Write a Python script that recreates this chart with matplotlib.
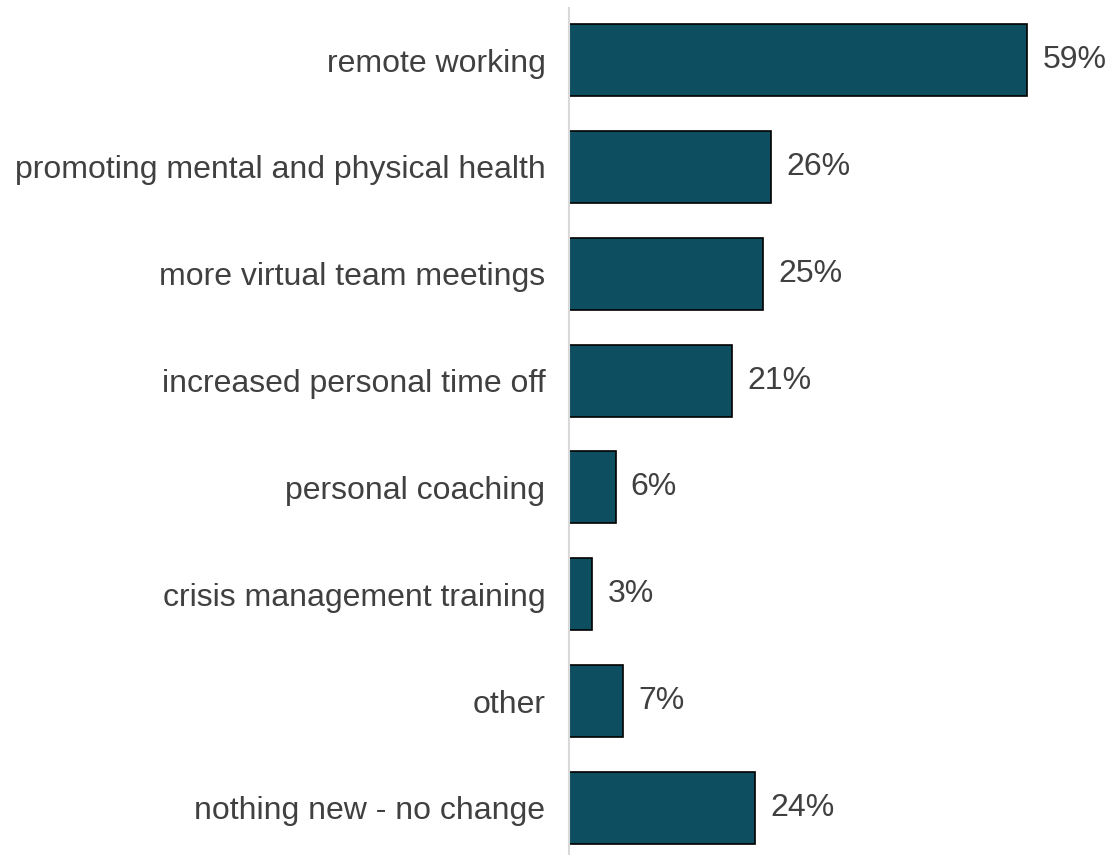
import matplotlib.pyplot as plt

categories = ["remote working", "promoting mental and physical health",
              "more virtual team meetings", "increased personal time off",
              "personal coaching", "crisis management training", "other",
              "nothing new - no change"]
values = [59, 26, 25, 21, 6, 3, 7, 24]

plt.rcParams['font.family'] = ['Liberation Sans', 'DejaVu Sans']

fig = plt.figure(figsize=(11.11, 8.55), dpi=100)
ax = fig.add_axes([569 / 1111, 0, 1 - 569 / 1111, 847 / 855])

pos = list(range(len(categories)))
ax.barh(pos, values, height=0.674, color="#0d4f60", edgecolor="black", linewidth=1.2)
for p, v in zip(pos, values):
    ax.annotate(f"{v}%", (v, p), xytext=(11, 0), textcoords="offset points",
                va="center", ha="left", fontsize=23, color="#404040")

ax.set_yticks(pos)
ax.set_yticklabels(categories, fontsize=23, color="#404040")
ax.tick_params(axis="y", length=0, pad=17)
ax.set_xticks([])
ax.set_xlim(0, 69.8)
ax.set_ylim(7.44, -0.487)
for s in ["top", "right", "bottom"]:
    ax.spines[s].set_visible(False)
ax.spines["left"].set_color("#d9d9d9")
ax.spines["left"].set_linewidth(1.5)

fig.savefig("out.png", dpi=100)
